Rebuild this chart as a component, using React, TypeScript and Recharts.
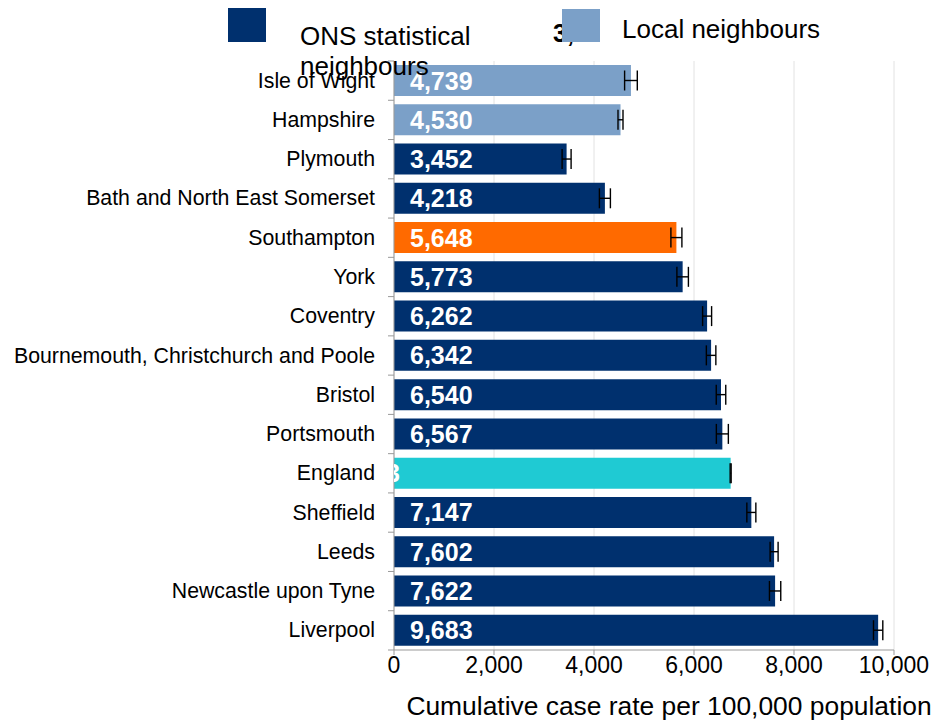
import { BarChart, Bar, XAxis, YAxis, CartesianGrid, Cell, LabelList, ErrorBar } from 'recharts';

const areas = [
  'Isle of Wight',
  'Hampshire',
  'Plymouth',
  'Bath and North East Somerset',
  'Southampton',
  'York',
  'Coventry',
  'Bournemouth, Christchurch and Poole',
  'Bristol',
  'Portsmouth',
  'England',
  'Sheffield',
  'Leeds',
  'Newcastle upon Tyne',
  'Liverpool',
];
const rates = [4739, 4530, 3452, 4218, 5648, 5773, 6262, 6342, 6540, 6567, 6733, 7147, 7602, 7622, 9683];
const errors = [127, 50, 90, 110, 110, 115, 90, 95, 95, 120, 10, 90, 80, 113, 93];
const groups = ['local', 'local', 'ons', 'ons', 'self', 'ons', 'ons', 'ons', 'ons', 'ons', 'england', 'ons', 'ons', 'ons', 'ons'];
const xTicks = [0, 2000, 4000, 6000, 8000, 10000];

const COLORS: Record<string, string> = {
  local: '#7BA0C8',
  ons: '#00306E',
  self: '#FF6A00',
  england: '#1FCAD3',
};

const data = areas.map((name, i) => ({ name, value: rates[i], err: errors[i], group: groups[i] }));

const FONT = '"Liberation Sans", Arial, sans-serif';
const AXIS_X = 394;
const PLOT_TOP = 61;
const PLOT_BOTTOM = 650;
const HALF_BAND = (PLOT_BOTTOM - PLOT_TOP) / areas.length / 2;

const fmt = (v: number) => v.toLocaleString('en-GB');

const CategoryTick = ({ y, payload, index }: any) => (
  <g>
    <text x={AXIS_X - 19} y={y} textAnchor="end" dominantBaseline="central" fontSize={21.3} fill="#000" fontFamily={FONT}>
      {payload.value}
    </text>
    <line x1={AXIS_X - 6} x2={AXIS_X} y1={y + HALF_BAND} y2={y + HALF_BAND} stroke="#999" />
    {index === 0 && <line x1={AXIS_X - 6} x2={AXIS_X} y1={y - HALF_BAND} y2={y - HALF_BAND} stroke="#999" />}
  </g>
);

const BarValue = ({ x, y, width, height, value, index }: any) => {
  const cy = y + height / 2;
  if (groups[index] === 'england') {
    // the England value sits mostly off the bar, only its tail shows
    return (
      <g>
        <defs>
          <clipPath id="eng-clip">
            <rect x={x} y={y} width={width} height={height} />
          </clipPath>
        </defs>
        <text x={x + 6} y={cy} textAnchor="end" dominantBaseline="central" fill="#fff" fontWeight="bold" fontSize={25} fontFamily={FONT} clipPath="url(#eng-clip)">
          {fmt(value)}
        </text>
      </g>
    );
  }
  return (
    <text x={x + 16} y={cy} dominantBaseline="central" fill="#fff" fontWeight="bold" fontSize={25} fontFamily={FONT}>
      {fmt(value)}
    </text>
  );
};

const AxisTitle = () => (
  <text x={669} y={715} textAnchor="middle" fontSize={26.4} fill="#000" fontFamily={FONT}>
    Cumulative case rate per 100,000 population
  </text>
);

export default function App() {
  return (
    <div style={{ position: 'absolute', left: 0, top: 0, width: 937, height: 721, background: '#fff', fontFamily: FONT }}>
      <BarChart
        width={937}
        height={721}
        layout="vertical"
        data={data}
        margin={{ top: PLOT_TOP, right: 43, bottom: 0, left: 0 }}
        barSize={31}
      >
        <CartesianGrid horizontal={false} stroke="#e2e2e2" />
        <XAxis
          type="number"
          domain={[0, 10000]}
          ticks={xTicks}
          tickFormatter={fmt}
          height={71}
          stroke="#999"
          tickSize={5}
          tick={{ fontSize: 23, fill: '#000', fontFamily: FONT }}
          label={<AxisTitle />}
        />
        <YAxis type="category" dataKey="name" width={AXIS_X} tickLine={false} stroke="#999" tick={<CategoryTick />} interval={0} />
        <Bar dataKey="value" isAnimationActive={false}>
          {data.map((d, i) => (
            <Cell key={`cell-${i}`} fill={COLORS[d.group]} />
          ))}
          <LabelList dataKey="value" content={<BarValue />} />
          <ErrorBar dataKey="err" direction="x" width={10} stroke="#000" strokeWidth={1.4} />
        </Bar>
      </BarChart>
      <svg width={937} height={721} style={{ position: 'absolute', left: 0, top: 0, pointerEvents: 'none' }}>
        <rect x={228} y={8} width={38} height={34} fill={COLORS.ons} />
        <text x={300} y={45} fontSize={26} fill="#000" fontFamily={FONT}>ONS statistical</text>
        <text x={300} y={75} fontSize={26} fill="#000" fontFamily={FONT}>neighbours</text>
        <text x={553} y={42} fontSize={25} fontWeight="bold" fill="#000" fontFamily={FONT}>3,9</text>
        <rect x={562} y={9} width={38} height={33} fill={COLORS.local} />
        <text x={622} y={38} fontSize={26} fill="#000" fontFamily={FONT}>Local neighbours</text>
      </svg>
    </div>
  );
}
